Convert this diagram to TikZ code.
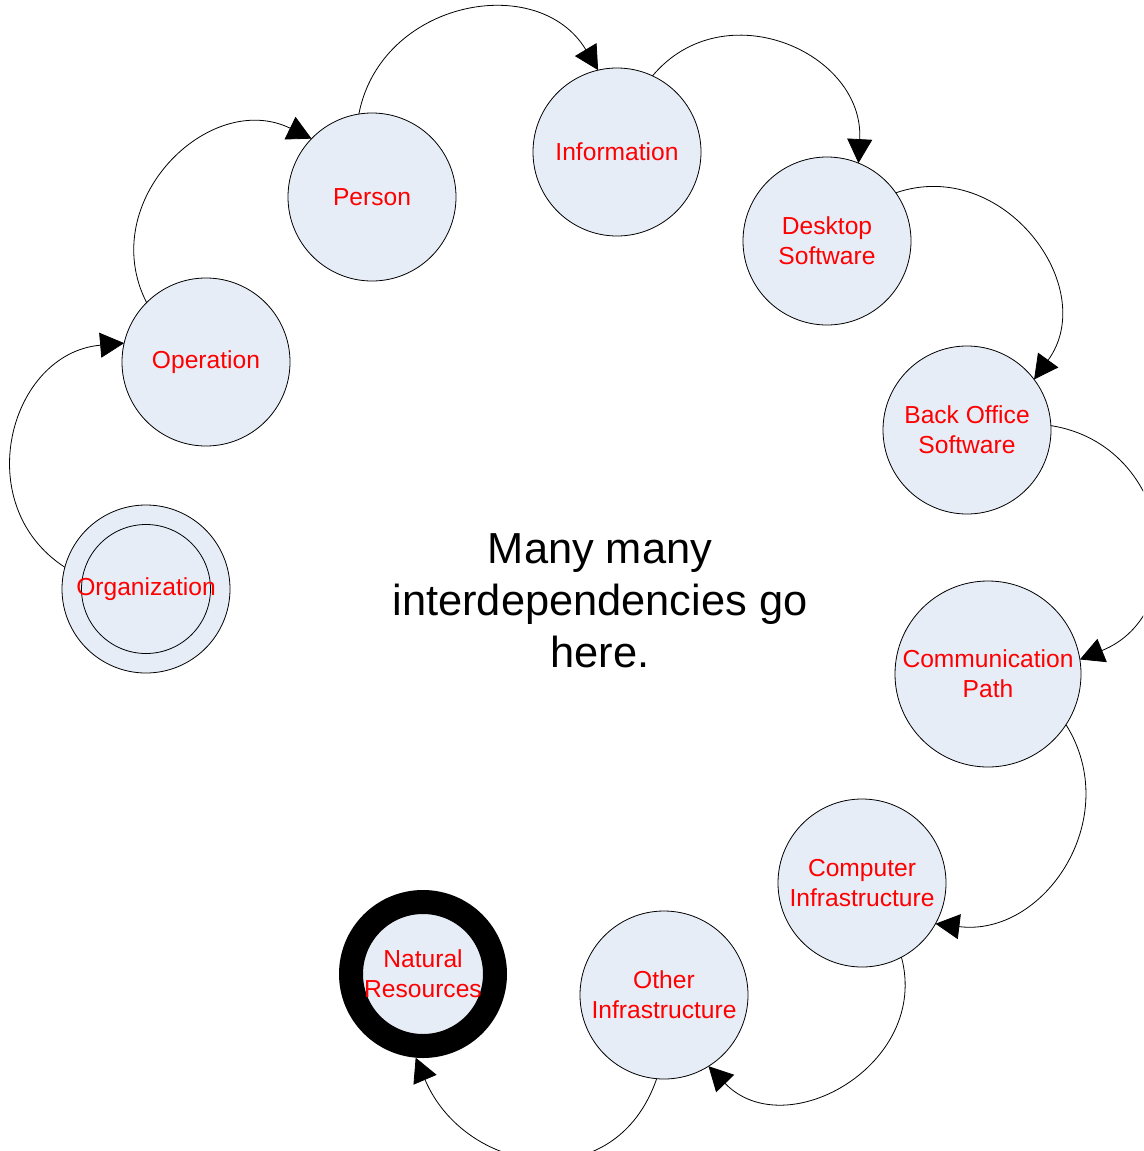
\documentclass[tikz,border=0pt]{standalone}
\usepackage{fontspec}
\setmainfont{Liberation Sans}
\usetikzlibrary{arrows.meta}
\definecolor{nodefill}{RGB}{231,237,247}
\definecolor{labelred}{RGB}{255,0,0}
\begin{document}
\begin{tikzpicture}[x=1pt,y=1pt,
  entity/.style={circle, draw=black, line width=0.8pt, fill=nodefill,
    minimum size=168pt, inner sep=0pt, outer sep=0pt, text=labelred,
    align=center, font=\fontsize{24.6}{30}\selectfont},
  dep/.style={draw=black, line width=0.8pt, -{Triangle[length=24pt,width=25pt]}},
  centertext/.style={align=center, font=\fontsize{43.4}{52}\selectfont, text=black}]
\useasboundingbox (0,0) rectangle (1143,-1151);
\clip (0,0) rectangle (1143,-1151);

\node[entity] (info) at (617,-152) {Information};
\node[entity] (desk) at (827,-241) {Desktop\\Software};
\node[entity] (back) at (967,-430) {Back Office\\Software};
\node[entity, minimum size=186pt] (comm) at (988,-674) {Communication\\Path};
\node[entity] (comp) at (862,-883) {Computer\\Infrastructure};
\node[entity] (other) at (664,-995) {Other\\Infrastructure};
\node[entity, line width=24pt, minimum size=144pt, outer sep=12pt] (nat) at (423,-974) {Natural\\Resources};
\node[entity, path picture={\draw[line width=0.8pt] (path picture bounding box.center) circle[radius=64.5];}] (org) at (146,-589) {Organization};
\node[entity] (op) at (206,-362) {Operation};
\node[entity] (person) at (372,-197) {Person};

\node[centertext] (note) at (600,-601) {Many many\\interdependencies go\\here.};

\draw[dep] (org.165) to[out=147,in=185,looseness=1.27] (op.167);
\draw[dep] (op.135) to[out=117,in=154,looseness=1.25] (person.136);
\draw[dep] (person.99) to[out=79,in=121,looseness=1.22] (info.103);
\draw[dep] (info.65) to[out=50,in=87,looseness=1.27] (desk.68);
\draw[dep] (desk.35) to[out=19,in=54,looseness=1.25] (back.37);
\draw[dep] (back.3) to[out=-9,in=22,looseness=1.35] (comm.9);
\draw[dep] (comm.-33) to[out=-58,in=-7,looseness=1.18] (comp.-29);
\draw[dep] (comp.-62) to[out=-75,in=-46,looseness=1.28] (other.-58);
\draw[dep] (other.-95) to[out=-109,in=-67,looseness=1.35] (nat.-95);
\end{tikzpicture}
\end{document}
